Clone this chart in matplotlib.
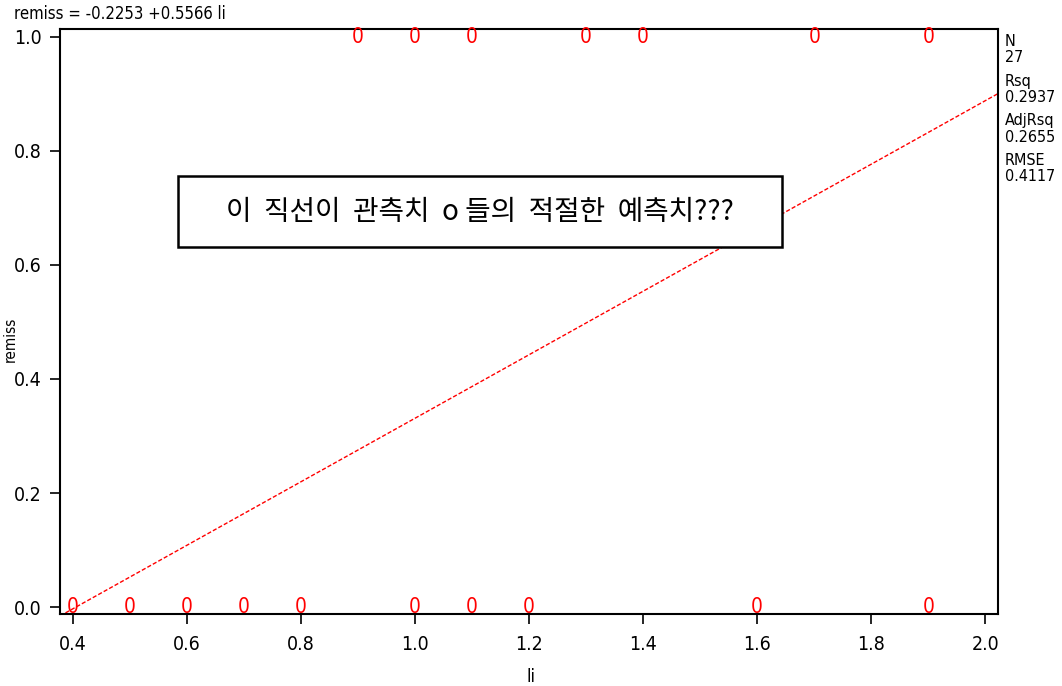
import numpy as np
import matplotlib.pyplot as plt
from matplotlib.patches import Rectangle

# remission data: response vs labeling index
li = np.array([1.9, 1.4, 0.8, 0.7, 1.3, 0.6, 1.0, 1.9, 0.8, 0.5, 0.7, 1.2, 0.4, 0.8,
               1.1, 1.9, 0.5, 1.0, 0.6, 1.1, 0.4, 0.6, 1.0, 1.6, 1.7, 0.9, 0.7])
remiss = np.array([1, 1, 0, 0, 1, 0, 1, 0, 0, 0, 0, 0, 0, 0,
                   0, 1, 0, 0, 0, 1, 0, 0, 1, 0, 1, 1, 0])

intercept, slope = -0.2253, 0.5566
stats_names = ["N", "Rsq", "AdjRsq", "RMSE"]
stats_values = ["27", "0.2937", "0.2655", "0.4117"]
xticks = [0.4, 0.6, 0.8, 1.0, 1.2, 1.4, 1.6, 1.8, 2.0]
yticks = [0.0, 0.2, 0.4, 0.6, 0.8, 1.0]

plt.rcParams["font.family"] = ["DejaVu Sans"]
plt.rcParams["font.stretch"] = "condensed"

fig = plt.figure(figsize=(10.62, 6.86), dpi=100)
ax = fig.add_axes([0.0565, 0.105, 0.883, 0.853])

xlim = (0.377, 2.022)
ax.set_xlim(*xlim)
ax.set_ylim(-0.012, 1.014)

# fitted line across the full x range
xs = np.array(xlim)
ax.plot(xs, intercept + slope * xs, color="red", lw=1.0, ls=(0, (3, 1.5)))

# observations drawn as "0" symbols (tied points plotted once)
pts = sorted(set(zip(li.tolist(), remiss.tolist())))
for xv, yv in pts:
    ax.text(xv, yv, "0", color="red", fontsize=15, ha="center", va="center",
            clip_on=False)

ax.set_xticks(xticks)
ax.set_yticks(yticks)
ax.set_xticklabels([f"{t:.1f}" for t in xticks])
ax.set_yticklabels([f"{t:.1f}" for t in yticks])
ax.tick_params(direction="out", length=7, width=1.2, labelsize=14, pad=6)
ax.tick_params(axis="x", pad=8)
for s in ax.spines.values():
    s.set_linewidth(1.5)

ax.set_xlabel("li", fontsize=13)
ax.set_ylabel("remiss", fontsize=11)
ax.xaxis.set_label_coords(0.502, -0.092)
ax.yaxis.set_label_coords(-0.045, 0.47)

fig.text(0.013, 0.979, f"remiss = {intercept:.4f} +{slope:.4f} li", fontsize=12,
         va="center", ha="left")

# fit statistics in the right margin
y0 = 42
for name, val in zip(stats_names, stats_values):
    fig.text(1005 / 1062, 1 - y0 / 686, name, fontsize=11.5, va="center")
    fig.text(1005 / 1062, 1 - (y0 + 16) / 686, val, fontsize=11.5, va="center")
    y0 += 39.5

# annotation box
fig.patches.append(Rectangle((178 / 1062, 1 - 247 / 686), 604 / 1062, 71 / 686,
                             transform=fig.transFigure, fc="white", ec="black",
                             lw=1.8, zorder=5))
fig.text(480 / 1062, 1 - 212 / 686, "이  직선이  관측치  o 들의  적절한  예측치???",
         family=["Noto Sans CJK KR", "DejaVu Sans"], fontsize=20, ha="center",
         va="center", zorder=6)

fig.savefig("out.png", dpi=100)
